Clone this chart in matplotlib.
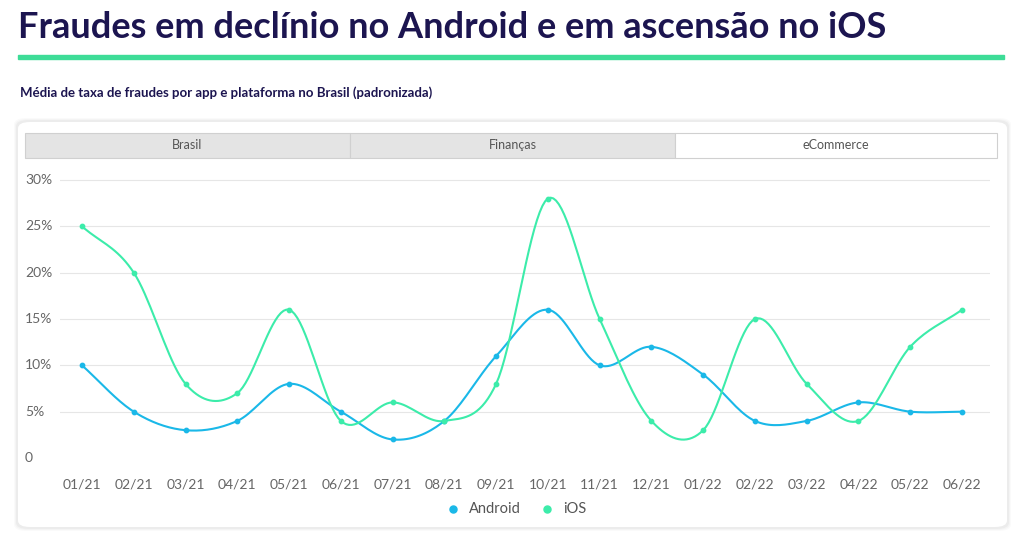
import matplotlib
matplotlib.use("Agg")
import matplotlib.pyplot as plt
import numpy as np
from matplotlib.patches import FancyBboxPatch, Rectangle

months = ['01/21', '02/21', '03/21', '04/21', '05/21', '06/21', '07/21', '08/21', '09/21',
          '10/21', '11/21', '12/21', '01/22', '02/22', '03/22', '04/22', '05/22', '06/22']
android = [10, 5, 3, 4, 8, 5, 2, 4, 11, 16, 10, 12, 9, 4, 4, 6, 5, 5]
ios = [25, 20, 8, 7, 16, 4, 6, 4, 8, 28, 15, 4, 3, 15, 8, 4, 12, 16]
yticks = [0, 5, 10, 15, 20, 25, 30]
tabs = ['Brasil', 'Finanças', 'eCommerce']

c_android = '#1ab8e8'
c_ios = '#3cecaa'
navy = '#1c1550'

plt.rcParams['font.family'] = ['Lato', 'DejaVu Sans']

W, H = 1024, 538
fig = plt.figure(figsize=(W / 100, H / 100), dpi=100)
fig.patch.set_facecolor('white')


def fx(px):
    return px / W


def fy(py):
    return 1 - py / H


fig.text(fx(18), fy(28), 'Fraudes em declínio no Android e em ascensão no iOS',
         fontsize=26, fontweight='bold', color=navy, va='center', ha='left')
fig.add_artist(Rectangle((fx(18), fy(59)), fx(986), 4 / H, color='#3ddc97',
                         transform=fig.transFigure))
fig.text(fx(20), fy(93), 'Média de taxa de fraudes por app e plataforma no Brasil (padronizada)',
         fontsize=9.5, fontweight='bold', color=navy, va='center', ha='left')

# card
for i, a in enumerate([0.03, 0.025, 0.02]):
    fig.add_artist(FancyBboxPatch((fx(18 - 2 - i), fy(527 + 2 + i)), fx(989 + 4 + 2 * i), (405 + 4 + 2 * i) / H,
                                  boxstyle='round,pad=0,rounding_size=0.012', fc='black', alpha=a,
                                  ec='none', transform=fig.transFigure))
fig.add_artist(FancyBboxPatch((fx(18), fy(527)), fx(989), 405 / H,
                              boxstyle='round,pad=0,rounding_size=0.012', fc='white', ec='none',
                              transform=fig.transFigure))

# tabs
edges = [25, 350, 675, 997]
for i, t in enumerate(tabs):
    active = i == 2
    fig.add_artist(Rectangle((fx(edges[i]), fy(158)), fx(edges[i + 1] - edges[i]), 25 / H,
                             fc='white' if active else '#e4e4e4', ec='#d0d0d0', lw=0.8,
                             transform=fig.transFigure))
    fig.text(fx((edges[i] + edges[i + 1]) / 2), fy(145), t, fontsize=9, color='#555555',
             ha='center', va='center')

# axes mapping: x 0 -> 82px, 17 -> 962px ; y 0 -> 458px, 30 -> 180px
sx = (962 - 82) / 17
sy = (458 - 180) / 30
left, right, bottom, top = 60, 990, 470, 170
ax = fig.add_axes([fx(left), fy(bottom), fx(right - left), (bottom - top) / H])
ax.set_zorder(10)
ax.set_xlim(-(82 - left) / sx, 17 + (right - 962) / sx)
ax.set_ylim(-(bottom - 458) / sy, 30 + (180 - top) / sy)
ax.patch.set_alpha(0)
for s in ax.spines.values():
    s.set_visible(False)
ax.tick_params(length=0)
ax.set_yticks([])
x = np.arange(len(months))
ax.set_xticks(x)
ax.set_xticklabels(months, fontsize=10, color='#666666')
ax.tick_params(axis='x', pad=6)
for v in yticks:
    if v > 0:
        ax.axhline(v, color='#e6e6e6', lw=0.8, zorder=0)
    ax.text(-(82 - 25) / sx, v, f'{v}%' if v else '0', clip_on=False,
            fontsize=10, color='#666666', ha='left', va='center')


def smooth(xs, ys, n=20):
    xs = np.asarray(xs, float)
    ys = np.asarray(ys, float)
    m = np.gradient(ys, xs)
    ox, oy = [], []
    for i in range(len(xs) - 1):
        t = np.linspace(0, 1, n)
        h = xs[i + 1] - xs[i]
        h00 = 2 * t**3 - 3 * t**2 + 1
        h10 = t**3 - 2 * t**2 + t
        h01 = -2 * t**3 + 3 * t**2
        h11 = t**3 - t**2
        ox.extend(xs[i] + t * h)
        oy.extend(h00 * ys[i] + h10 * h * m[i] + h01 * ys[i + 1] + h11 * h * m[i + 1])
    return ox, oy


for data, c, lab in [(android, c_android, 'Android'), (ios, c_ios, 'iOS')]:
    sx_, sy_ = smooth(x, data)
    ax.plot(sx_, sy_, color=c, lw=1.5)
    ax.scatter(x, data, s=10, color=c, zorder=3, label=lab)

fig.legend(loc='center', bbox_to_anchor=(fx(512), fy(509)), ncol=2, frameon=False,
           fontsize=10.5, handletextpad=0.1, columnspacing=0.8, markerscale=1.6,
           labelcolor='#555555')

fig.savefig('out.png', dpi=100)
